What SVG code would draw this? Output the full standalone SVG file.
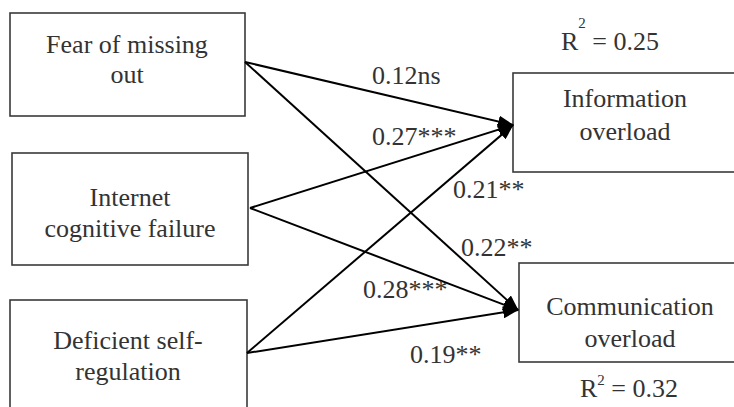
<svg xmlns="http://www.w3.org/2000/svg" width="734" height="407" viewBox="0 0 734 407">
<style>
.box{fill:#fff;stroke:#3a3a3a;stroke-width:1.6}
.t{font-family:"Liberation Serif","Times New Roman",serif;font-size:26px;fill:#333;text-anchor:middle}
.lbl{font-family:"Liberation Serif","Times New Roman",serif;font-size:26px;fill:#333}
.edge{stroke:#000;stroke-width:2;fill:none;marker-end:url(#ah)}
</style>
<defs>
<marker id="ah" viewBox="0 0 16 12" refX="15" refY="6" markerWidth="16" markerHeight="12" markerUnits="userSpaceOnUse" orient="auto">
<path d="M0,0 L16,6 L0,12 z" fill="#000"/>
</marker>
</defs>
<rect width="734" height="407" fill="#fff"/>
<g id="fomo">
<rect class="box" x="10" y="13" width="235" height="103"/>
<text class="t" x="127" y="53">Fear of missing</text>
<text class="t" x="127" y="83">out</text>
</g>
<g id="icf">
<rect class="box" x="12" y="153" width="236" height="112"/>
<text class="t" x="130" y="206">Internet</text>
<text class="t" x="130" y="237">cognitive failure</text>
</g>
<g id="dsr">
<rect class="box" x="10" y="300" width="237" height="120"/>
<text class="t" x="128" y="349">Deficient self-</text>
<text class="t" x="128" y="380">regulation</text>
</g>
<g id="io">
<rect class="box" x="513" y="73" width="230" height="99"/>
<text class="t" x="625" y="107">Information</text>
<text class="t" x="625" y="140">overload</text>
<text class="lbl" x="561" y="50">R<tspan font-size="15" dy="-22">2</tspan><tspan dy="22"> = 0.25</tspan></text>
</g>
<g id="co">
<rect class="box" x="519" y="263" width="224" height="99"/>
<text class="t" x="630" y="315">Communication</text>
<text class="t" x="630" y="347">overload</text>
<text class="lbl" x="580" y="397">R<tspan font-size="15" dy="-12">2</tspan><tspan dy="12"> = 0.32</tspan></text>
</g>
<g id="connectors">
<line class="edge" x1="245" y1="62" x2="513" y2="125"/>
<line class="edge" x1="250" y1="208" x2="513" y2="125"/>
<line class="edge" x1="247" y1="353" x2="513" y2="125"/>
<line class="edge" x1="245" y1="62" x2="518" y2="310"/>
<line class="edge" x1="250" y1="208" x2="518" y2="310"/>
<line class="edge" x1="247" y1="353" x2="518" y2="310"/>
<text class="lbl" x="372" y="84">0.12ns</text>
<text class="lbl" x="372" y="145">0.27***</text>
<text class="lbl" x="453" y="198">0.21**</text>
<text class="lbl" x="461" y="256">0.22**</text>
<text class="lbl" x="363" y="298">0.28***</text>
<text class="lbl" x="410" y="363">0.19**</text>
</g>
</svg>
